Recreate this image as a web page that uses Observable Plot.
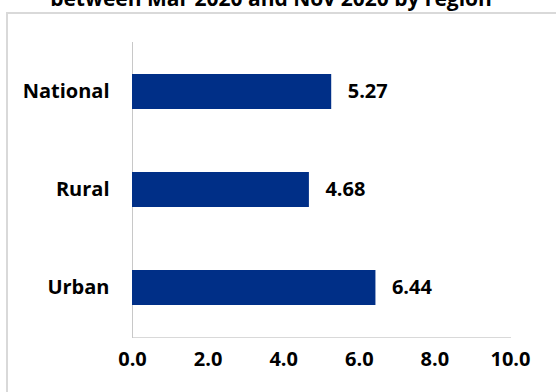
<!DOCTYPE html>
<html>
<head>
<meta charset="utf-8">
<script src="https://cdn.jsdelivr.net/npm/d3@7"></script>
<script src="https://cdn.jsdelivr.net/npm/@observablehq/plot@0.6"></script>
<style>
  html, body { margin: 0; padding: 0; background: #fff; }
  #wrap { position: relative; width: 556px; height: 392px; overflow: hidden; font-family: "Open Sans", sans-serif; }
  #border { position: absolute; left: 6px; top: 12px; width: 700px; height: 600px; border: 2px solid #d9d9d9; box-sizing: border-box; }
  #title { position: absolute; left: 0; width: 542px; top: -16px; text-align: center; font-weight: 700; font-size: 21px; line-height: 28px; color: #000; white-space: nowrap; }
  #chart { position: absolute; left: 0; top: 0; }
</style>
</head>
<body>
<div id="wrap">
  <div id="border"></div>
  <div id="title">between Mar 2020 and Nov 2020 by region</div>
  <div id="chart"></div>
</div>
<script>
const categories = ["National", "Rural", "Urban"];
const values = [5.27, 4.68, 6.44];
const xTicks = [0, 2, 4, 6, 8, 10];

const data = categories.map((c, i) => ({category: c, value: values[i]}));

const chart = Plot.plot({
  width: 556,
  height: 392,
  marginTop: 42,
  marginBottom: 55,
  marginLeft: 132,
  marginRight: 46,
  style: {fontFamily: "Open Sans, sans-serif", fontSize: "20px", fontWeight: "700", color: "#000", background: "transparent"},
  x: {domain: [0, 10], ticks: xTicks, tickFormat: d => d.toFixed(1), tickSize: 0, tickPadding: 14, label: null},
  y: {domain: categories, paddingInner: 0.644, paddingOuter: 0.322, tickSize: 0, tickPadding: 23, label: null},
  marks: [
    Plot.frame({anchor: "bottom", stroke: "#d9d9d9", strokeOpacity: 1}),
    Plot.frame({anchor: "left", stroke: "#c8c8c8", strokeOpacity: 1}),
    Plot.barX(data, {x: "value", y: "category", fill: "#002f87"}),
    Plot.text(data, {x: "value", y: "category", text: d => d.value.toFixed(2), textAnchor: "start", dx: 16, fontSize: 20, fontWeight: 700, fill: "#000"})
  ]
});
document.getElementById("chart").appendChild(chart);
</script>
</body>
</html>
